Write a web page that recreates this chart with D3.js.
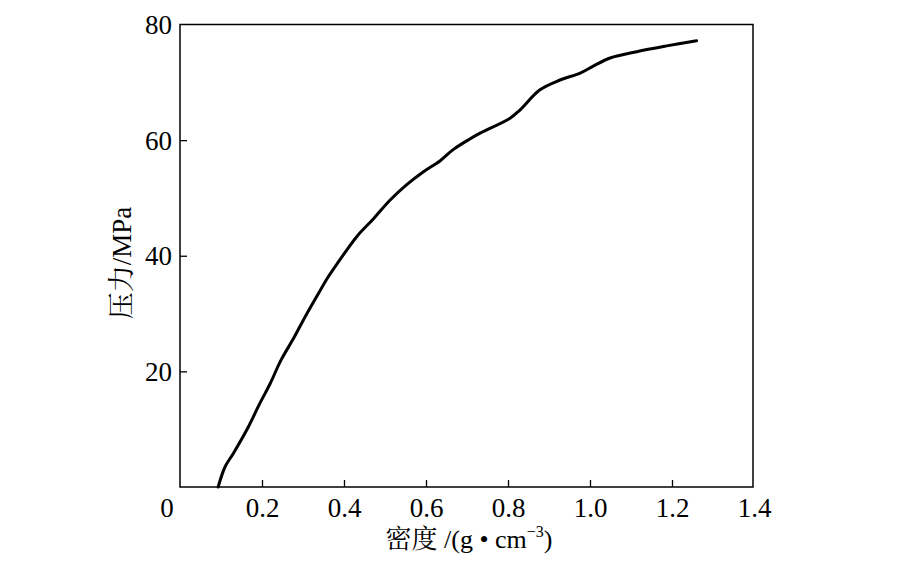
<!DOCTYPE html>
<html><head><meta charset="utf-8">
<script src="https://cdn.jsdelivr.net/npm/d3@7"></script>
<style>
html,body{margin:0;padding:0;background:#fff;}
svg text{font-family:"Liberation Serif","Times New Roman",serif;fill:#000;}
.cjk{font-family:"Liberation Serif","Noto Serif CJK SC","Noto Sans CJK SC",serif;}
</style></head>
<body>
<svg id="c" width="900" height="561"></svg>
<script>
const density = [0.093,0.110,0.130,0.163,0.195,0.220,0.246,0.276,0.301,0.333,0.362,0.385,0.431,0.472,0.512,0.553,0.593,0.634,0.667,0.707,0.732,0.805,0.829,0.878,0.927,0.976,1.008,1.049,1.114,1.187,1.260];
const pressure = [0,3.5,5.8,9.9,14.5,17.9,21.9,25.6,28.9,32.9,36.4,38.8,43.3,46.4,49.6,52.3,54.5,56.4,58.4,60.2,61.2,63.8,65.2,68.7,70.4,71.6,72.8,74.2,75.3,76.3,77.2];
const xTicks = [0.2,0.4,0.6,0.8,1.0,1.2,1.4];
const xTickLabels = ["0.2","0.4","0.6","0.8","1.0","1.2","1.4"];
const yTicks = [20,40,60,80];
const xTitleMain = "密度 /(g • cm";
const xTitleSup = "−3";
const xTitleEnd = ")";
const yTitle = "压力/MPa";

const svg = d3.select("#c");
const L=180, R=754, T=24.5, B=487;
const x = d3.scaleLinear().domain([0,1.4]).range([L,R]);
const y = d3.scaleLinear().domain([0,80]).range([B,T]);
const FS = 27;

svg.append("rect").attr("x",L).attr("y",T).attr("width",x(1.4)-L-1).attr("height",B-T)
  .attr("fill","none").attr("stroke","#000").attr("stroke-width",1.5);

const xa = svg.append("g").attr("transform",`translate(0,${B})`)
  .call(d3.axisBottom(x).tickValues(xTicks).tickSize(-7).tickPadding(0)
        .tickFormat((d,i)=>xTickLabels[i]));
xa.select(".domain").remove();
xa.selectAll("line").attr("stroke","#000").attr("stroke-width",1.3)
  .filter(d=>d===1.4).remove();
xa.selectAll("text").attr("font-size",FS).attr("font-family","Liberation Serif")
  .attr("y",30).attr("dy",null);

svg.append("text").attr("x",167).attr("y",B+30).attr("text-anchor","middle")
  .attr("font-size",FS).text("0");

const ya = svg.append("g").attr("transform",`translate(${L},0)`)
  .call(d3.axisLeft(y).tickValues(yTicks).tickSize(-7).tickPadding(8));
ya.select(".domain").remove();
ya.selectAll("line").attr("stroke","#000").attr("stroke-width",1.3)
  .filter(d=>d===80).remove();
ya.selectAll("text").attr("font-size",FS).attr("font-family","Liberation Serif").attr("dy","0.34em");

const line = d3.line().x((d,i)=>x(density[i])).y((d,i)=>y(pressure[i])).curve(d3.curveCatmullRom.alpha(0.5));
svg.append("path").datum(density).attr("d",line).attr("fill","none")
  .attr("stroke","#000").attr("stroke-width",3).attr("stroke-linecap","round");

const xt = svg.append("text").attr("class","cjk").attr("x",469).attr("y",548).attr("text-anchor","middle")
  .attr("font-size",26);
xt.append("tspan").text(xTitleMain);
xt.append("tspan").attr("font-size",16).attr("dy",-11).text(xTitleSup);
xt.append("tspan").attr("dy",11).text(xTitleEnd);

svg.append("text").attr("class","cjk").attr("transform","translate(131,263) rotate(-90)")
  .attr("text-anchor","middle").attr("font-size",27).text(yTitle);
</script>
</body></html>
